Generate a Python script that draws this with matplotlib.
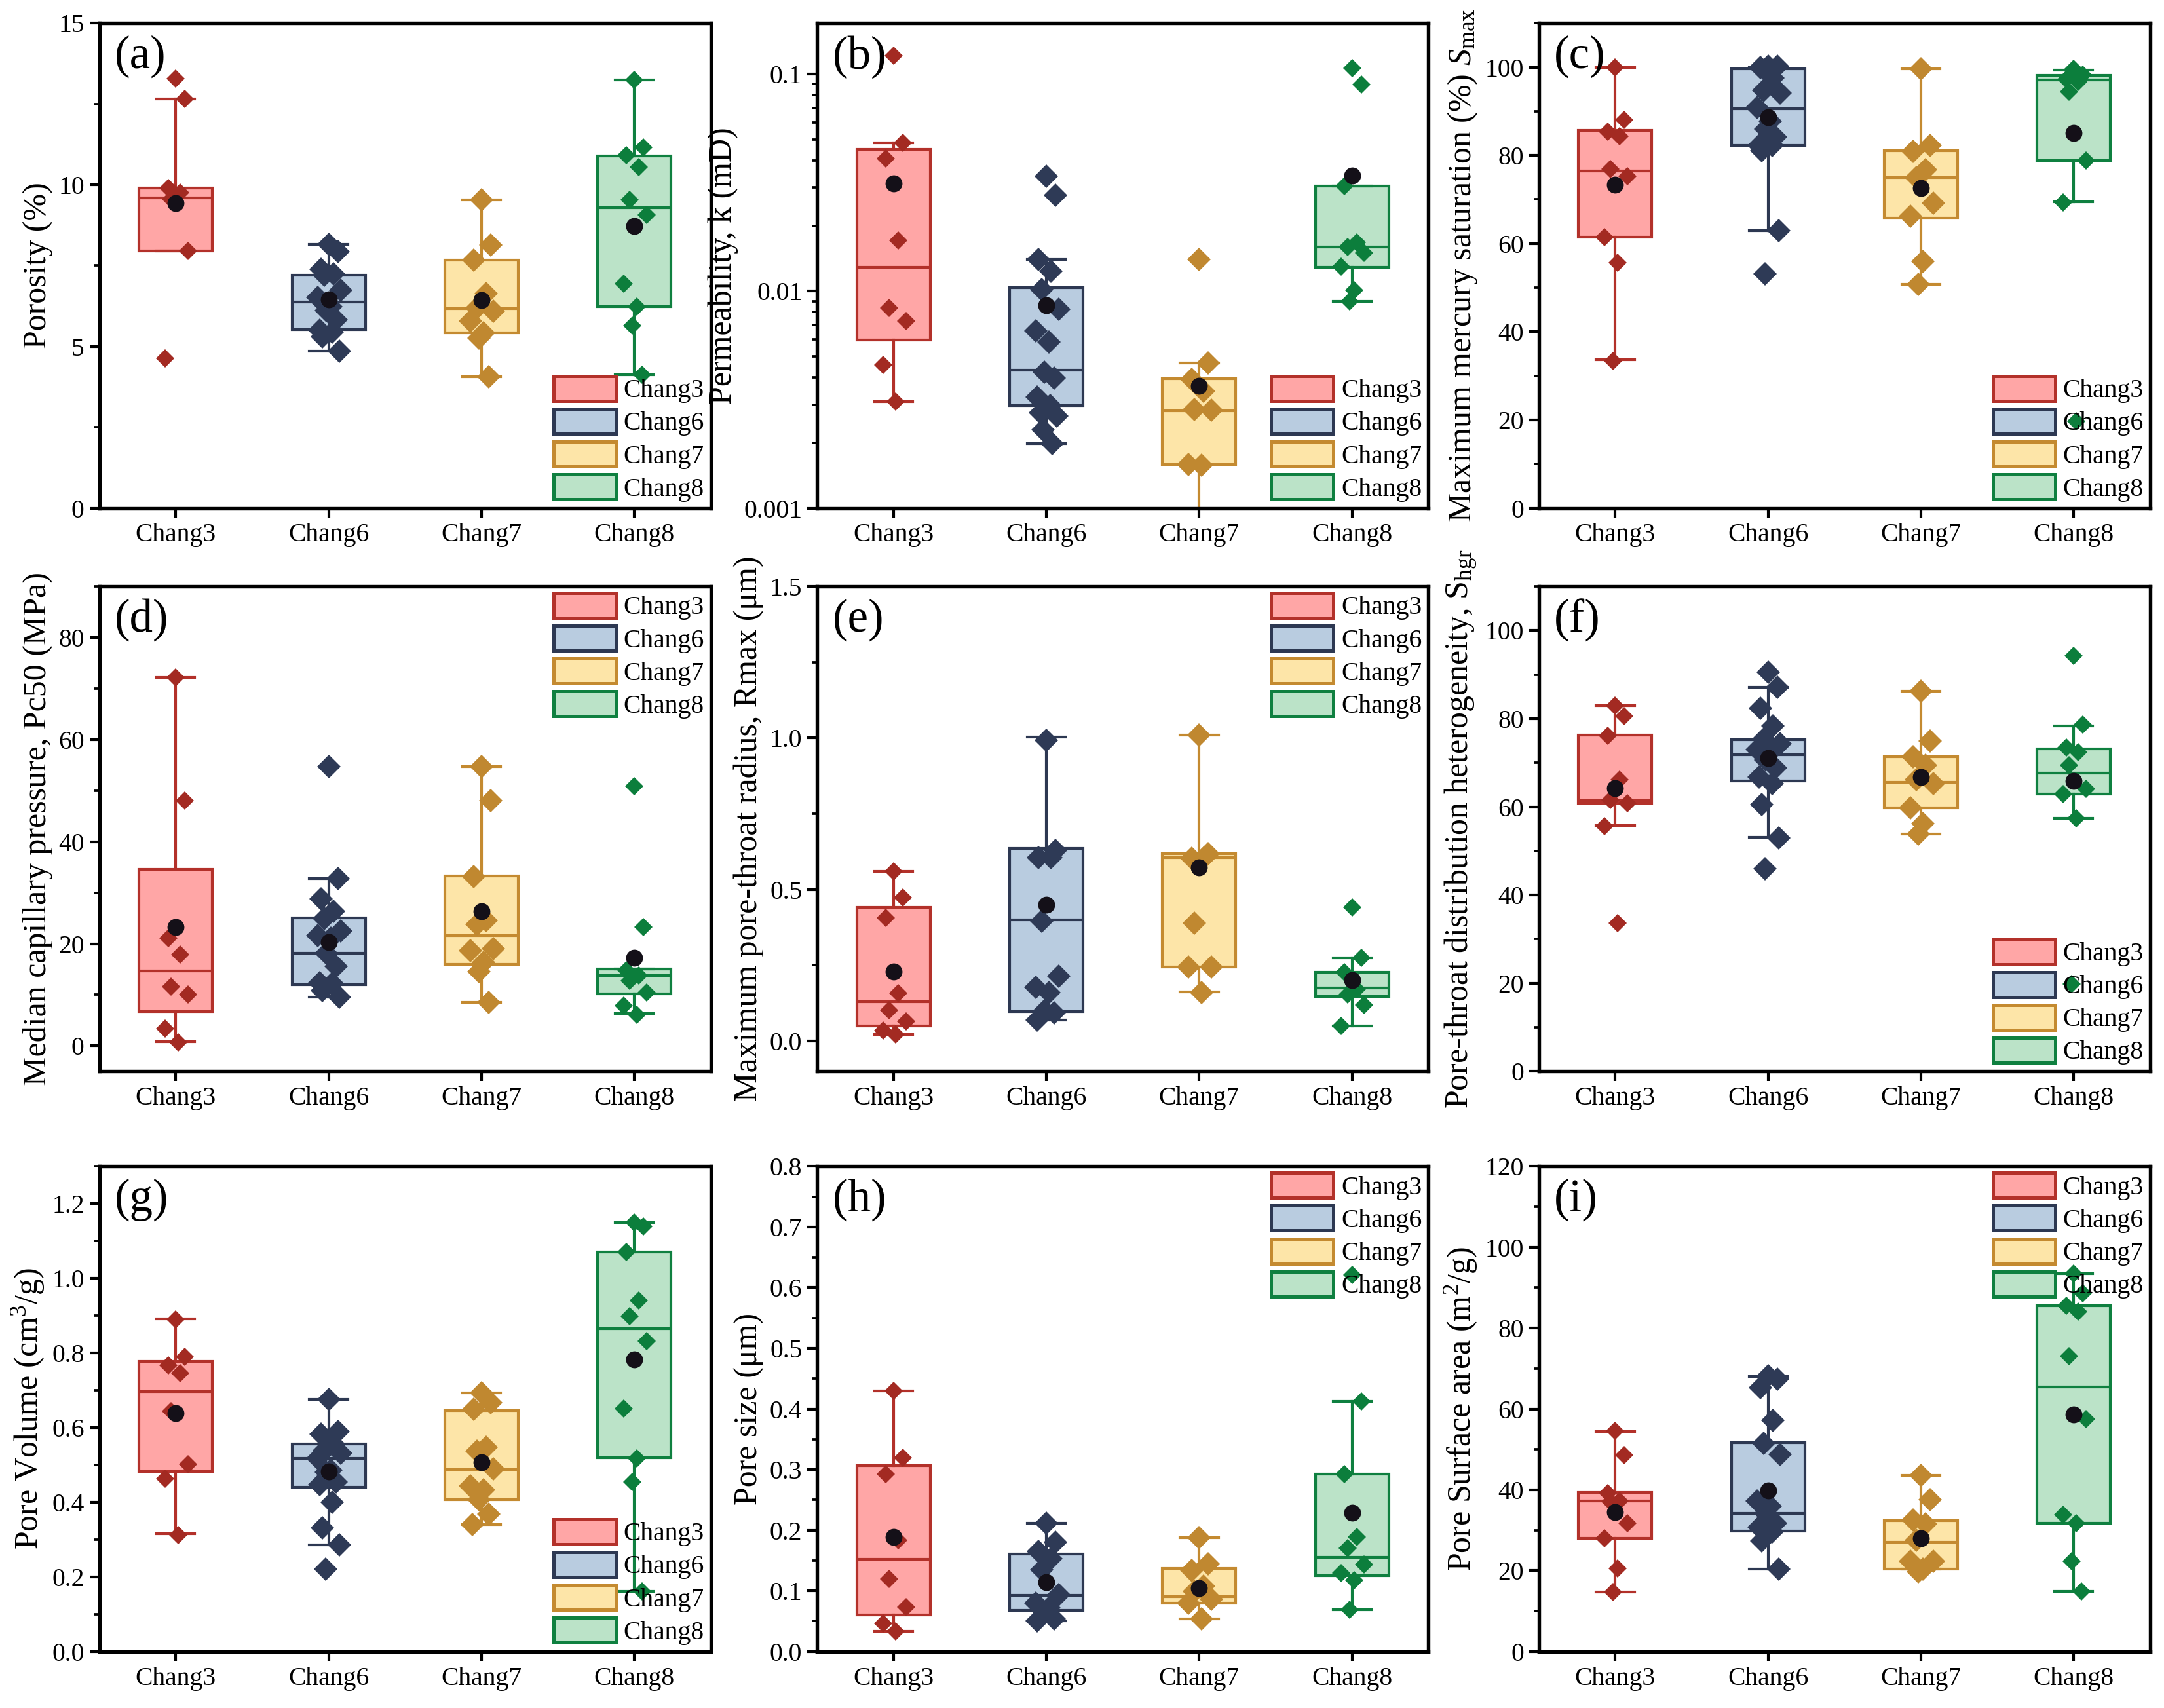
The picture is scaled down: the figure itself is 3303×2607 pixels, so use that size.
import numpy as np
import matplotlib
matplotlib.use('Agg')
import matplotlib.pyplot as plt
from matplotlib.patches import Patch
from matplotlib.ticker import MultipleLocator, LogLocator, NullFormatter, FormatStrFormatter

plt.rcParams['font.family'] = 'Liberation Serif'
plt.rcParams['mathtext.fontset'] = 'custom'
plt.rcParams['mathtext.rm'] = 'Liberation Serif'
plt.rcParams['mathtext.it'] = 'Liberation Serif:italic'

groups = ['Chang3', 'Chang6', 'Chang7', 'Chang8']
face = ['#ffa6a6', '#b9cce0', '#fde5a8', '#bbe3c8']
edge = ['#b3312a', '#2d3852', '#c48a30', '#0f8040']
dot = ['#a32a22', '#2e3a56', '#c08830', '#0c7e3c']

# box stats per group: (whisker low, q1, median, q3, whisker high, mean)
# (a) porosity
porosity_box = [(7.96, 7.96, 9.60, 9.90, 12.66, 9.43),
                (4.85, 5.53, 6.37, 7.20, 8.15, 6.46),
                (4.06, 5.42, 6.17, 7.67, 9.53, 6.43),
                (4.12, 6.24, 9.29, 10.89, 13.25, 8.73)]
porosity_pts = [[13.29, 12.66, 9.90, 9.75, 9.55, 7.96, 4.63],
                [8.15, 7.93, 7.39, 7.25, 7.20, 6.74, 6.52, 6.24, 6.12, 5.82, 5.50, 5.45, 5.30, 4.85],
                [9.53, 8.13, 7.67, 6.63, 6.20, 6.09, 5.79, 5.42, 5.26, 4.06],
                [13.25, 11.16, 10.92, 10.54, 9.53, 9.06, 6.94, 6.24, 5.65, 4.12]]
# (b) permeability
perm_box = [(0.00309, 0.00594, 0.01291, 0.0449, 0.0481, 0.0314),
            (0.00198, 0.00298, 0.00431, 0.01035, 0.01397, 0.00859),
            (0.0008, 0.00159, 0.00281, 0.00395, 0.00467, 0.00366),
            (0.00897, 0.01291, 0.0160, 0.0305, 0.0305, 0.0342)]
perm_pts = [[0.1215, 0.0481, 0.0408, 0.01718, 0.00836, 0.00730, 0.00457, 0.00309],
            [0.0339, 0.0276, 0.01397, 0.01233, 0.01017, 0.00826, 0.00658, 0.00582, 0.00424,
             0.00399, 0.00325, 0.00298, 0.00276, 0.00266, 0.00229, 0.00198],
            [0.01402, 0.00467, 0.00392, 0.00346, 0.00285, 0.00283, 0.00159, 0.00158],
            [0.1069, 0.0897, 0.0305, 0.01683, 0.0160, 0.0150, 0.01297, 0.01007, 0.00897]]
# (c) max mercury saturation
smax_box = [(33.6, 61.4, 76.5, 85.7, 100.0, 73.4),
            (62.9, 82.2, 90.6, 99.6, 100.0, 88.7),
            (50.8, 65.8, 75.0, 81.1, 99.6, 72.6),
            (69.5, 78.9, 97.1, 98.1, 99.3, 85.1)]
smax_pts = [[100.0, 88.0, 85.4, 84.4, 76.9, 75.3, 61.4, 55.6, 33.4],
            [100.2, 100.2, 100.0, 97.5, 94.8, 94.1, 90.9, 87.7, 85.9, 84.2, 82.3, 82.3, 81.1, 62.9, 53.1],
            [99.6, 82.3, 80.9, 76.8, 75.0, 69.2, 66.2, 56.0, 50.7],
            [99.6, 98.3, 97.3, 96.7, 94.4, 78.9, 69.3, 19.7]]
# (d) median capillary pressure
pc50_box = [(0.86, 6.78, 14.7, 34.6, 72.1, 23.3),
            (9.5, 12.0, 18.2, 25.1, 32.8, 20.3),
            (8.57, 15.9, 21.6, 33.3, 54.7, 26.3),
            (6.28, 10.2, 13.8, 15.06, 15.06, 17.3)]
pc50_pts = [[72.1, 48.0, 21.1, 17.9, 11.6, 10.1, 3.4, 0.7],
            [54.7, 32.8, 28.8, 26.4, 25.0, 22.5, 21.6, 21.1, 18.2, 15.6, 12.35, 12.2, 10.8, 9.5],
            [54.7, 48.1, 33.2, 24.5, 23.8, 19.1, 18.6, 16.3, 14.6, 8.57],
            [50.9, 23.3, 14.8, 13.8, 12.7, 10.4, 7.9, 6.1]]
# (e) maximum pore-throat radius
rmax_box = [(0.022, 0.049, 0.130, 0.441, 0.560, 0.230),
            (0.070, 0.098, 0.401, 0.636, 1.004, 0.449),
            (0.163, 0.245, 0.606, 0.618, 1.010, 0.572),
            (0.049, 0.148, 0.175, 0.227, 0.275, 0.202)]
rmax_pts = [[0.560, 0.473, 0.407, 0.157, 0.102, 0.064, 0.034, 0.022],
            [0.992, 0.630, 0.606, 0.606, 0.395, 0.214, 0.178, 0.160, 0.100, 0.094, 0.070],
            [1.010, 0.618, 0.604, 0.604, 0.389, 0.245, 0.245, 0.160],
            [0.440, 0.275, 0.227, 0.172, 0.154, 0.118, 0.049]]
# (f) pore-throat distribution heterogeneity
shgr_box = [(55.7, 60.8, 61.4, 76.3, 82.9, 64.3),
            (53.1, 65.9, 71.8, 75.3, 87.1, 71.1),
            (53.9, 59.8, 65.6, 71.3, 86.3, 66.7),
            (57.4, 62.9, 67.6, 73.2, 78.4, 65.8)]
shgr_pts = [[82.9, 80.6, 76.1, 66.2, 61.6, 60.8, 55.6, 33.7],
            [90.6, 87.1, 82.3, 78.3, 75.4, 74.3, 73.0, 72.4, 70.7, 68.8, 66.8, 65.3, 60.5, 52.9, 45.9],
            [86.3, 74.9, 71.4, 69.5, 66.2, 65.3, 59.8, 56.2, 53.9],
            [94.3, 78.6, 73.4, 72.4, 69.5, 64.1, 62.9, 57.4, 19.85]]
# (g) pore volume
pv_box = [(0.315, 0.483, 0.696, 0.778, 0.891, 0.639),
          (0.285, 0.441, 0.517, 0.556, 0.675, 0.483),
          (0.340, 0.407, 0.488, 0.646, 0.693, 0.507),
          (0.161, 0.519, 0.865, 1.070, 1.149, 0.783)]
pv_pts = [[0.890, 0.790, 0.766, 0.746, 0.644, 0.502, 0.463, 0.312],
          [0.675, 0.590, 0.583, 0.556, 0.539, 0.532, 0.517, 0.486, 0.480, 0.454, 0.447, 0.400, 0.332, 0.285, 0.220],
          [0.693, 0.666, 0.649, 0.548, 0.537, 0.490, 0.444, 0.434, 0.407, 0.369, 0.340],
          [1.149, 1.139, 1.070, 0.940, 0.898, 0.832, 0.651, 0.517, 0.454, 0.161]]
# (h) pore size
ps_box = [(0.033, 0.060, 0.152, 0.307, 0.430, 0.189),
          (0.050, 0.068, 0.093, 0.161, 0.212, 0.114),
          (0.054, 0.080, 0.090, 0.1365, 0.188, 0.104),
          (0.069, 0.1245, 0.155, 0.292, 0.412, 0.2286)]
ps_pts = [[0.430, 0.320, 0.293, 0.183, 0.120, 0.073, 0.046, 0.033],
          [0.212, 0.180, 0.165, 0.153, 0.135, 0.094, 0.080, 0.072, 0.063, 0.054, 0.051],
          [0.188, 0.144, 0.134, 0.108, 0.099, 0.086, 0.080, 0.054],
          [0.621, 0.412, 0.292, 0.189, 0.170, 0.143, 0.129, 0.117, 0.069]]
# (i) pore surface area
psa_box = [(14.7, 27.95, 37.2, 39.3, 54.4, 34.5),
           (20.3, 29.8, 34.1, 51.7, 68.1, 39.9),
           (20.3, 20.3, 27.05, 32.3, 43.6, 28.0),
           (14.9, 31.65, 65.4, 85.5, 93.4, 58.7)]
psa_pts = [[54.6, 48.5, 39.2, 37.2, 37.0, 31.8, 27.95, 20.6, 14.7],
           [68.2, 67.3, 65.2, 57.1, 51.5, 48.8, 37.2, 35.9, 34.1, 31.8, 30.7, 29.6, 27.3, 20.3],
           [43.6, 37.5, 32.6, 31.6, 27.5, 22.4, 22.4, 20.3, 19.7],
           [93.4, 88.6, 85.5, 84.0, 73.0, 57.5, 33.8, 31.65, 22.4, 14.9]]

# fixed spread of the overlapping points around each box centre
spread = [0.0, 0.06, -0.05, 0.03, -0.03, 0.08, -0.07, 0.015, -0.015, 0.05, -0.06, 0.025, -0.04, 0.07, -0.02, 0.04]

panels = [
    ('(a)', 'Porosity (%)', porosity_box, porosity_pts, (0, 15), 5, 2.5, 'lower right', '%d'),
    ('(b)', 'Permeability, k (mD)', perm_box, perm_pts, (0.001, 0.172), None, None, 'lower right', None),
    ('(c)', r'Maximum mercury saturation (%) $\mathit{S}_\mathrm{max}$', smax_box, smax_pts, (0, 110), 20, 10, 'lower right', '%d'),
    ('(d)', 'Median capillary pressure, Pc50 (MPa)', pc50_box, pc50_pts, (-5, 90), 20, 10, 'upper right', '%d'),
    ('(e)', 'Maximum pore-throat radius, Rmax (μm)', rmax_box, rmax_pts, (-0.1, 1.5), 0.5, 0.25, 'upper right', '%.1f'),
    ('(f)', r'Pore-throat distribution heterogeneity, S$_\mathrm{hgr}$', shgr_box, shgr_pts, (0, 110), 20, 10, 'lower right', '%d'),
    ('(g)', r'Pore Volume (cm$^3$/g)', pv_box, pv_pts, (0, 1.3), 0.2, 0.1, 'lower right', '%.1f'),
    ('(h)', 'Pore size (μm)', ps_box, ps_pts, (0, 0.8), 0.1, 0.05, 'upper right', '%.1f'),
    ('(i)', r'Pore Surface area (m$^2$/g)', psa_box, psa_pts, (0, 120), 20, 10, 'upper right', '%d'),
]

fig = plt.figure(figsize=(11.01, 8.69), dpi=300)
lefts = [0.0459, 0.3776, 0.7111]
bottoms = [0.7025, 0.3727, 0.0331]
w, h = 0.2825, 0.284

handles = [Patch(facecolor=face[i], edgecolor=edge[i], lw=1.2) for i in range(4)]

for k, (tag, ylab, box, pts, ylim, major, minor, loc, fmt) in enumerate(panels):
    ax = fig.add_axes([lefts[k % 3], bottoms[k // 3], w, h])
    for i in range(4):
        lo, q1, med, q3, hi, mean = box[i]
        st = [dict(whislo=lo, q1=q1, med=med, q3=q3, whishi=hi, fliers=[])]
        c = edge[i]
        ax.bxp(st, positions=[i + 1], widths=0.48, capwidths=0.25, patch_artist=True,
               showfliers=False, manage_ticks=False,
               boxprops=dict(facecolor=face[i], edgecolor=c, lw=1.0),
               whiskerprops=dict(color=c, lw=1.0),
               capprops=dict(color=c, lw=1.0),
               medianprops=dict(color=c, lw=1.0))
        y = np.array(pts[i])
        x = i + 1 + np.array([spread[j % len(spread)] for j in range(len(y))])
        ms = 4.8 if i in (0, 3) else 6.0
        ax.plot(x, y, 'D', ms=ms, color=dot[i], mec='none', zorder=3)
        ax.plot(i + 1, mean, 'o', ms=6.2, color='#141018', mec='none', zorder=4)

    ax.set_xlim(0.5, 4.5)
    ax.set_xticks([1, 2, 3, 4], labels=groups)
    if tag == '(b)':
        ax.set_yscale('log')
        ax.set_ylim(*ylim)
        ax.set_yticks([0.001, 0.01, 0.1], labels=['0.001', '0.01', '0.1'])
        ax.yaxis.set_minor_locator(LogLocator(base=10, subs=np.arange(2, 10)))
        ax.yaxis.set_minor_formatter(NullFormatter())
    else:
        ax.set_ylim(*ylim)
        ax.yaxis.set_major_locator(MultipleLocator(major))
        ax.yaxis.set_minor_locator(MultipleLocator(minor))
        ax.yaxis.set_major_formatter(FormatStrFormatter(fmt))
    ax.tick_params(axis='both', which='major', direction='out', length=3.5, width=1.0,
                   labelsize=9.5, top=False, right=False, pad=2)
    ax.tick_params(axis='both', which='minor', direction='out', length=2, width=0.9,
                   top=False, right=False)
    ax.tick_params(axis='x', which='minor', bottom=False)
    for s in ax.spines.values():
        s.set_linewidth(1.3)
    ax.set_ylabel(ylab, fontsize=12, labelpad=2)
    ax.text(0.025, 0.975, tag, transform=ax.transAxes, fontsize=17, va='top', ha='left')
    ax.legend(handles, groups, loc=loc, frameon=False, fontsize=9.5, handlelength=2.4,
              handleheight=1.1, labelspacing=0.22, handletextpad=0.3,
              borderaxespad=0.15, borderpad=0.1)

fig.savefig('out.png', dpi=300)
